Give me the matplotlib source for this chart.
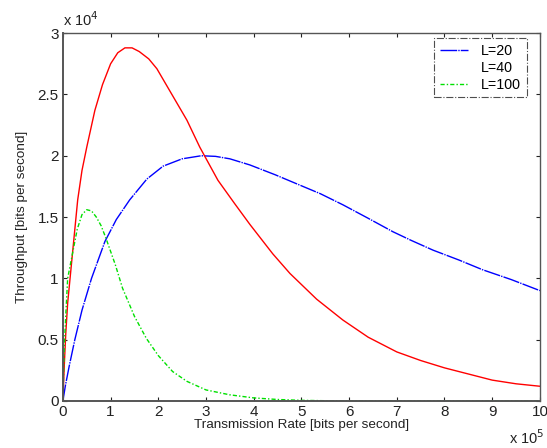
import numpy as np
import matplotlib.pyplot as plt
from matplotlib.lines import Line2D

plt.rcParams['font.family'] = ['Liberation Sans', 'DejaVu Sans']

# transmission rate in units of 1e5 bit/s, throughput in units of 1e4 bit/s
rate_L20 = [0, 0.05, 0.13, 0.25, 0.4, 0.6, 0.88, 1.12, 1.4, 1.76, 2.1, 2.5, 2.9,
            3.2, 3.5, 3.92, 4.45, 4.97, 5.4, 5.87, 6.4, 6.92, 7.3, 7.76, 8.3, 8.8,
            9.4, 10]
thr_L20 = [0, 0.12, 0.28, 0.5, 0.74, 1.0, 1.3, 1.48, 1.64, 1.81, 1.915, 1.975, 2.0,
           1.995, 1.975, 1.925, 1.845, 1.76, 1.69, 1.6, 1.49, 1.38, 1.31, 1.23, 1.15,
           1.07, 0.99, 0.9]

rate_L40 = [0, 0.03, 0.06, 0.1, 0.2, 0.31, 0.4, 0.5, 0.67, 0.83, 1.0, 1.15, 1.3,
            1.45, 1.6, 1.8, 1.97, 2.24, 2.6, 2.87, 3.25, 3.6, 3.92, 4.4, 4.76, 5.0,
            5.32, 5.87, 6.4, 7.0, 7.5, 8.0, 8.5, 9.0, 9.5, 10]
thr_L40 = [0, 0.3, 0.55, 0.8, 1.2, 1.64, 1.88, 2.07, 2.37, 2.58, 2.75, 2.84, 2.88,
           2.88, 2.85, 2.79, 2.71, 2.53, 2.29, 2.07, 1.8, 1.61, 1.44, 1.2, 1.04, 0.95,
           0.83, 0.66, 0.52, 0.4, 0.33, 0.27, 0.22, 0.17, 0.14, 0.12]

rate_L100 = [0, 0.03, 0.06, 0.1, 0.2, 0.3, 0.4, 0.5, 0.6, 0.7, 0.8, 0.9, 1.0, 1.1,
             1.25, 1.5, 1.75, 2.0, 2.3, 2.6, 3.0, 3.5, 4.0, 4.5, 5.0, 5.5, 6, 7, 8, 9, 10]
thr_L100 = [0, 0.45, 0.7, 1.0, 1.2, 1.4, 1.52, 1.56, 1.55, 1.5, 1.43, 1.33, 1.22, 1.11,
            0.92, 0.69, 0.51, 0.37, 0.24, 0.16, 0.09, 0.05, 0.025, 0.012, 0.005, 0.002,
            0, 0, 0, 0, 0]

fig = plt.figure(figsize=(5.47, 4.48), dpi=100)
ax = fig.add_axes([0.115, 0.105, 0.872, 0.821])

l20, = ax.plot(rate_L20, thr_L20, color='#0000ff', lw=1.0, ls=(0, (12, 0.8, 1, 0.8)))
l40, = ax.plot(rate_L40, thr_L40, color='#ff0000', lw=1.0)
l100, = ax.plot(rate_L100, thr_L100, color='#00e000', lw=1.0, ls=(0, (3, 1.5, 1, 1.5)))

ax.set_xlim(0, 10)
ax.set_ylim(0, 3)
ax.set_xticks(np.arange(0, 11, 1))
ax.set_yticks([0, 0.5, 1, 1.5, 2, 2.5, 3])
ax.set_yticklabels(['0', '0.5', '1', '1.5', '2', '2.5', '3'])
ax.tick_params(direction='in', length=3, top=True, right=True, labelsize=11,
               colors='#222222', pad=3)
for s in ax.spines.values():
    s.set_color('#555555')
    s.set_linewidth(1.0)
ax.spines['left'].set_linewidth(1.4)
ax.spines['bottom'].set_linewidth(1.4)

ax.set_xlabel('Transmission Rate [bits per second]', fontsize=9.7, color='#222222', labelpad=0)
ax.set_ylabel('Throughput [bits per second]', fontsize=9.7, color='#222222', labelpad=7)

ax.text(0.0, 1.012, r'x 10$^4$', transform=ax.transAxes, fontsize=10.5, color='#222222',
        ha='left', va='bottom')
ax.text(1.01, -0.075, r'x 10$^5$', transform=ax.transAxes, fontsize=10.5, color='#222222',
        ha='right', va='top')

blank = Line2D([], [], color='none')
leg = ax.legend([l20, blank, l100], ['L=20', 'L=40', 'L=100'], loc='upper right',
                bbox_to_anchor=(0.973, 0.986), borderaxespad=0,
                fontsize=10.3, frameon=True, fancybox=False, handlelength=2.0,
                labelspacing=0.2, handletextpad=0.9, borderpad=0.4)
leg.get_frame().set_edgecolor('#222222')
leg.get_frame().set_linestyle('-.')
leg.get_frame().set_linewidth(0.8)

fig.savefig('out.png', dpi=100)
